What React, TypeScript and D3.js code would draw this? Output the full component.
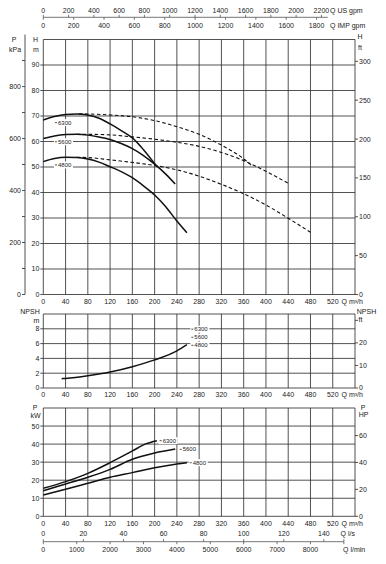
import React, { useEffect, useRef } from 'react';
import * as d3 from 'd3';

const width = 386;
const height = 564;

// flow in m3/h
const flowTicks = [0, 40, 80, 120, 160, 200, 240, 280, 320, 360, 400, 440, 480, 520];
const speeds = ['6300', '5600', '4800'];

// head (m) against flow (m3/h), single pump, solid
const head6300 = [[0, 68.4], [20, 69.8], [40, 70.6], [60, 70.8], [80, 70.4], [100, 69.1], [120, 66.9], [140, 64.3], [160, 61.4], [180, 56.8], [204, 50.2]];
const head5600 = [[0, 61.2], [20, 62.2], [40, 62.7], [60, 62.8], [80, 62.5], [100, 61.8], [120, 60.8], [140, 59.2], [160, 57.2], [180, 54.5], [200, 51.1], [220, 47.2], [237, 43.3]];
const head4800 = [[0, 52.1], [20, 53.3], [40, 53.8], [60, 53.7], [80, 53.1], [100, 51.9], [120, 50.1], [140, 48.2], [160, 45.8], [180, 42.6], [200, 39], [220, 34.4], [240, 28.8], [258, 24.2]];

// head, two pumps in parallel, dashed
const dual6300 = [[64, 70.9], [80, 70.8], [120, 70.4], [160, 69.7], [200, 68.2], [240, 65.8], [280, 62.8], [320, 58.6], [360, 53.2], [376, 50.2]];
const dual5600 = [[60, 62.8], [80, 62.8], [120, 62.6], [160, 61.8], [200, 60.9], [240, 59.7], [280, 58.1], [320, 55.7], [360, 52.5], [400, 48.3], [440, 43.6]];
const dual4800 = [[60, 53.8], [80, 53.7], [120, 52.8], [160, 51.8], [200, 50.6], [240, 48.9], [280, 46.4], [320, 43.2], [360, 39.5], [400, 35.1], [440, 29.9], [480, 24.4]];

// NPSH (m)
const npsh = [[33, 1.26], [40, 1.3], [80, 1.66], [120, 2.16], [160, 2.88], [200, 3.8], [240, 5.02], [258, 5.85]];

// power (kW)
const power6300 = [[0, 15.5], [40, 19.2], [80, 23.8], [120, 29.7], [160, 36.2], [184, 40.1], [204, 41.9]];
const power5600 = [[0, 14.2], [40, 17.9], [80, 21.6], [120, 26], [160, 31.6], [200, 35.1], [237, 37.3]];
const power4800 = [[0, 11.8], [40, 15], [80, 18.3], [120, 21.6], [160, 24.2], [200, 26.9], [240, 29], [258, 29.7]];

// where the speed labels sit, [flow, value]
const headLabelAt = [[21, 67.4], [21, 59.9], [21, 50.8]];
const npshLabelAt = [[266, 7.95], [266, 6.85], [266, 5.77]];
const powerLabelAt = [[209, 41.9], [245, 37.1], [263, 29.7]];

const headTicks = [0, 10, 20, 30, 40, 50, 60, 70, 80, 90];
const kpaTicks = [0, 100, 200, 300, 400, 500, 600, 700, 800, 900];
const kpaLabels = [0, 200, 400, 600, 800];
const headFtTicks = [0, 50, 100, 150, 200, 250, 300];
const npshTicks = [0, 2, 4, 6, 8];
const npshFtTicks = [0, 10, 20, 30];
const npshFtLabels = [0, 10, 20];
const powerTicks = [0, 10, 20, 30, 40, 50];
const hpTicks = [0, 20, 40, 60];
const usGpmTicks = [0, 200, 400, 600, 800, 1000, 1200, 1400, 1600, 1800, 2000, 2200];
const impGpmTicks = [0, 200, 400, 600, 800, 1000, 1200, 1400, 1600, 1800];
const lsTicks = [0, 20, 40, 60, 80, 100, 120, 140];
const lminTicks = [0, 1000, 2000, 3000, 4000, 5000, 6000, 7000, 8000];

const M3H_TO_USGPM = 4.403;
const M3H_TO_IMPGPM = 3.666;
const M3H_TO_LS = 1 / 3.6;
const M3H_TO_LMIN = 1000 / 60;
const M_TO_FT = 1 / 0.3048;
const M_TO_KPA = 9.81;
const KW_TO_HP = 1 / 0.7457;

const font = '"Liberation Sans", Arial, sans-serif';
const ink = '#222';
const gridColor = '#333';

export default function App() {
  const ref = useRef<SVGSVGElement>(null);

  useEffect(() => {
    const svg = d3.select(ref.current);
    svg.selectAll('*').remove();

    const x = d3.scaleLinear().domain([0, 560]).range([43.3, 355]);
    const x0 = x(0), x1 = x(560);

    const txt = (s: string, px: number, py: number, anchor = 'middle', size = 7) =>
      svg.append('text')
        .attr('x', px).attr('y', py)
        .attr('text-anchor', anchor)
        .attr('dy', '0.35em')
        .style('font-family', font)
        .style('font-size', size + 'px')
        .attr('fill', ink)
        .text(s);

    const line = (ax: number, ay: number, bx: number, by: number, w = 0.85, c = gridColor) =>
      svg.append('line')
        .attr('x1', ax).attr('y1', ay).attr('x2', bx).attr('y2', by)
        .attr('stroke', c).attr('stroke-width', w);

    const panel = (y: d3.ScaleLinear<number, number>, top: number, rows: number[]) => {
      const yb = y(0), yt = y(top);
      flowTicks.slice(1).forEach(q => line(x(q), yt, x(q), yb));
      rows.filter(v => v > 0).forEach(v => line(x0, y(v), x1, y(v)));
      line(x0, yt, x1, yt);
      line(x0, yb, x1, yb);
      line(x0, yt, x0, yb);
      line(x1, yt, x1, yb);
      flowTicks.forEach(q => txt(String(q), x(q), yb + 7));
      txt('Q m³/h', 341.5, yb + 7, 'start');
      rows.forEach(v => {
        line(x0 - 3, y(v), x0, y(v));
        txt(String(v), x0 - 4, y(v), 'end');
      });
    };

    const rightAxis = (y: d3.ScaleLinear<number, number>, ticks: number[], labels: number[]) => {
      ticks.forEach(v => line(x1, y(v), x1 + 3, y(v)));
      labels.forEach(v => txt(String(v), x1 + 4, y(v), 'start'));
    };

    const curve = (y: d3.ScaleLinear<number, number>, pts: number[][], dashed = false) => {
      const gen = d3.line<number[]>()
        .x(d => x(d[0]))
        .y(d => y(d[1]))
        .curve(d3.curveMonotoneX);
      svg.append('path')
        .attr('d', gen(pts))
        .attr('fill', 'none')
        .attr('stroke', '#111')
        .attr('stroke-width', dashed ? 1.1 : 1.5)
        .attr('stroke-dasharray', dashed ? '3.5 2.5' : null);
    };

    const speedLabels = (y: d3.ScaleLinear<number, number>, at: number[][]) => {
      at.forEach((p, i) => {
        const px = x(p[0]), py = y(p[1]);
        svg.append('rect')
          .attr('x', px - 1).attr('y', py - 3.5)
          .attr('width', 19).attr('height', 7)
          .attr('fill', 'white');
        line(px, py, px + 2, py, 0.8, ink);
        txt(speeds[i], px + 3, py, 'start', 6);
      });
    };

    // ---- head panel ----
    const yHead = d3.scaleLinear().domain([0, 100]).range([294.5, 39.5]);
    panel(yHead, 100, headTicks);
    const yHeadFt = d3.scaleLinear().domain([0, 100 * M_TO_FT]).range([294.5, 39.5]);
    rightAxis(yHeadFt, headFtTicks, headFtTicks);

    const yKpa = d3.scaleLinear().domain([0, 100 * M_TO_KPA]).range([294.5, 39.5]);
    line(25, yKpa(0), 25, yKpa(1000), 0.85);
    kpaTicks.forEach(v => line(22, yKpa(v), 25, yKpa(v)));
    kpaLabels.forEach(v => txt(String(v), 21, yKpa(v), 'end'));

    txt('P', 14, 39.5);
    txt('kPa', 15, 49.5);
    txt('H', 35.5, 39.5);
    txt('m', 36, 49.5);
    txt('H', 357.5, 37, 'start');
    txt('ft', 358, 47.5, 'start');

    [dual6300, dual5600, dual4800].forEach(c => curve(yHead, c, true));
    [head6300, head5600, head4800].forEach(c => curve(yHead, c));
    speedLabels(yHead, headLabelAt);

    // ---- NPSH panel ----
    const yNpsh = d3.scaleLinear().domain([0, 10]).range([388, 314]);
    panel(yNpsh, 10, npshTicks);
    const yNpshFt = d3.scaleLinear().domain([0, 10 * M_TO_FT]).range([388, 314]);
    rightAxis(yNpshFt, npshFtTicks, npshFtLabels);
    txt('NPSH', 30, 311.5);
    txt('m', 36.5, 320.5);
    txt('NPSH', 366.5, 311.5);
    txt('ft', 358.5, 320, 'start');
    curve(yNpsh, npsh);
    speedLabels(yNpsh, npshLabelAt);

    // ---- power panel ----
    const yPow = d3.scaleLinear().domain([0, 60]).range([516.3, 408]);
    panel(yPow, 60, powerTicks);
    const yHp = d3.scaleLinear().domain([0, 60 * KW_TO_HP]).range([516.3, 408]);
    rightAxis(yHp, hpTicks, hpTicks);
    txt('P', 35, 407.5);
    txt('kW', 35.5, 416);
    txt('P', 363, 407.5);
    txt('HP', 363.5, 415);
    [power6300, power5600, power4800].forEach(c => curve(yPow, c));
    speedLabels(yPow, powerLabelAt);

    // ---- top flow scales: US and IMP gpm ----
    const xUs = d3.scaleLinear().domain([0, 560 * M3H_TO_USGPM]).range([x0, x1]);
    const xImp = d3.scaleLinear().domain([0, 560 * M3H_TO_IMPGPM]).range([x0, x1]);
    const topY = 17.3;
    line(x0, topY, xUs(2250), topY, 0.9, '#666');
    usGpmTicks.forEach(v => {
      line(xUs(v), topY - 2.5, xUs(v), topY, 0.8, '#555');
      txt(String(v), xUs(v), 11);
    });
    impGpmTicks.forEach(v => {
      line(xImp(v), topY, xImp(v), topY + 2.5, 0.8, '#555');
      txt(String(v), xImp(v), 25.7);
    });
    txt('Q US gpm', 330, 11, 'start');
    txt('Q IMP gpm', 330, 25.7, 'start');

    // ---- bottom flow scales: l/s and l/min ----
    const xLs = d3.scaleLinear().domain([0, 560 * M3H_TO_LS]).range([x0, x1]);
    const xLmin = d3.scaleLinear().domain([0, 560 * M3H_TO_LMIN]).range([x0, x1]);
    const botY = 541.7;
    line(x0, botY, xLs(150), botY, 0.9, '#666');
    line(xLs(150), botY - 2.5, xLs(150), botY + 2.5, 0.8, '#555');
    lsTicks.forEach(v => {
      line(xLs(v), botY - 2.5, xLs(v), botY, 0.8, '#555');
      txt(String(v), xLs(v), 534);
    });
    lminTicks.forEach(v => {
      line(xLmin(v), botY, xLmin(v), botY + 2.5, 0.8, '#555');
      txt(String(v), xLmin(v), 550);
    });
    txt('Q l/s', 340.5, 534, 'start');
    txt('Q l/min', 343, 550, 'start');
  }, []);

  return (
    <svg
      ref={ref}
      width={width}
      height={height}
      style={{ position: 'absolute', left: 0, top: 0, background: 'white' }}
    />
  );
}
